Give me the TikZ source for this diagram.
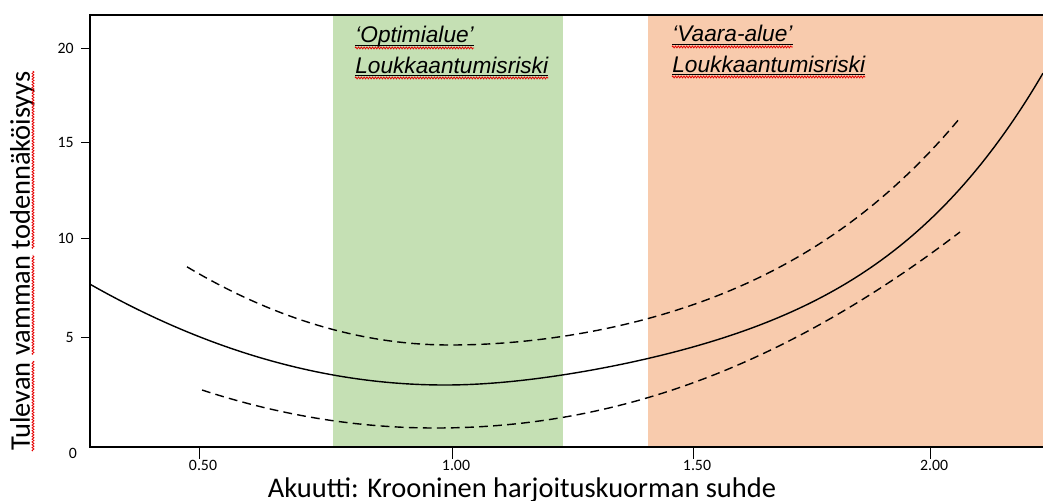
\documentclass[tikz,border=0pt]{standalone}
\usepackage{fontspec}
\setmainfont{Carlito}
\newfontfamily\arialfont{Liberation Sans}
\usetikzlibrary{calc,decorations.pathmorphing}

\definecolor{optgreen}{HTML}{C5E0B4}
\definecolor{riskpeach}{HTML}{F8CBAD}

\tikzset{
  axisline/.style={line width=1.6pt},
  fitcurve/.style={line width=0.8pt, smooth},
  bandcurve/.style={line width=0.8pt, smooth, dash pattern=on 5pt off 3pt},
  zonetext/.style={font=\arialfont\itshape\fontsize{12.9}{15}\selectfont, inner sep=0pt, anchor=base west},
  ticktext/.style={font=\fontsize{9}{10}\selectfont, inner sep=1pt},
  titletext/.style={font=\fontsize{16.2}{18}\selectfont, inner sep=0pt, anchor=base},
  spellmark/.style={draw=red!90!black, line width=0.45pt, decorate,
    decoration={zigzag, segment length=1.6pt, amplitude=0.55pt}},
}

\begin{document}
\begin{tikzpicture}[x=0.02cm, y=-0.02cm,
    % rise above the minimum, u = distance from the minimum in 100px
    declare function={
      solidrise(\u)=8*min(\u,0)*min(\u,0)
        + max(\u,0)*max(\u,0)*(9.215 - 2.028*max(\u,0) + 0.3253*max(\u,0)*max(\u,0));
      upperrise(\u)=11.3*min(\u,0)*min(\u,0)
        + max(\u,0)*max(\u,0)*(7.267 - 0.61*max(\u,0) + 0.1758*max(\u,0)*max(\u,0));
      lowerrise(\u)=7*min(\u,0)*min(\u,0)
        + max(\u,0)*max(\u,0)*(6.145 + 0.3138*max(\u,0) - 0.0247*max(\u,0)*max(\u,0));
    }]
    % Grid in pixels: (0,0) top left, (1043,500) bottom right
    \useasboundingbox (0,0) rectangle (1043,500);

    % Zones
    \fill[optgreen] (333,16) rectangle (563,446);
    \fill[riskpeach] (648,16) rectangle (1043,446);

    % Fitted curve (min at 445,385) and its band
    \draw[fitcurve] plot[domain=90:1043, samples=120] (\x, {385 - solidrise((\x-445)/100)});
    \draw[bandcurve] plot[domain=187:960, samples=100] (\x, {345 - upperrise((\x-450)/100)});
    \draw[bandcurve] plot[domain=202:960, samples=100] (\x, {428 - lowerrise((\x-435)/100)});

    % Frame
    \draw[axisline] (90,14) -- (90,447) -- (1043,447);
    \draw[axisline] (89,15) -- (1043,15);

    % y ticks
    \foreach \py/\lbl in {48/20, 142/15, 238/10, 337/5} {
      \draw (90,\py) -- (81,\py) node[ticktext, left=3pt] (yt\lbl) {\lbl};
    }
    \node[ticktext] (yt0) at (73,453) {0};

    % x ticks
    \foreach \px/\lbl/\nm in {199/0.50/a, 452/1.00/b, 693/1.50/c, 930/2.00/d} {
      \draw (\px,447) -- (\px,459);
      \node[ticktext, anchor=north] (xt\nm) at (\px+4,458) {\lbl};
    }

    % Axis titles
    \node[titletext] (xtitle) at (522,497) {Akuutti: Krooninen harjoituskuorman suhde};
    \node[titletext, rotate=90] (ytitle) at (30,261) {Tulevan vamman todennäköisyys};
    \foreach \a/\b in {0/0.237, 0.254/0.516, 0.533/1} {
      \draw[spellmark] ($(ytitle.base west)!\a!(ytitle.base east)+(3,0)$)
        -- ($(ytitle.base west)!\b!(ytitle.base east)+(3,0)$);
    }

    % Zone labels
    \node[zonetext] (opt1) at (355,43) {‘Optimialue’};
    \node[zonetext] (opt2) at (355,73) {Loukkaantumisriski};
    \node[zonetext] (vaa1) at (672,42) {‘Vaara-alue’};
    \node[zonetext] (vaa2) at (672,72) {Loukkaantumisriski};
    \foreach \n in {opt1, opt2, vaa1, vaa2} {
      \draw[line width=0.6pt] ([yshift=-1.6pt]\n.base west) -- ([yshift=-1.6pt]\n.base east);
      \draw[spellmark] ([yshift=-2.8pt]\n.base west) -- ([yshift=-2.8pt]\n.base east);
    }
\end{tikzpicture}
\end{document}
